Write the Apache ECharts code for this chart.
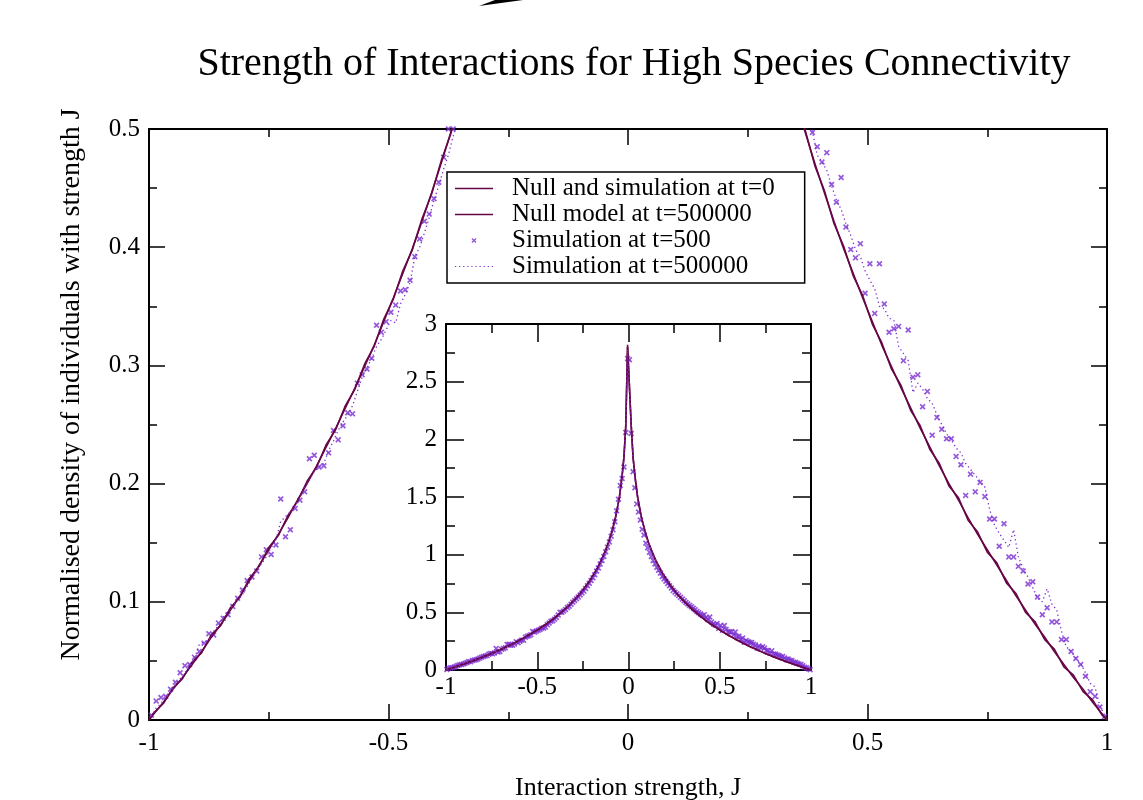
<!DOCTYPE html>
<html>
<head>
<meta charset="utf-8">
<title>Strength of Interactions for High Species Connectivity</title>
<script src="https://cdn.jsdelivr.net/npm/echarts@6/dist/echarts.min.js"></script>
<style>
  html, body { margin: 0; padding: 0; background: #fff; }
  #chart { width: 1143px; height: 800px; }
</style>
</head>
<body>
<div id="chart"></div>
<script>
// histogram bin centres of the simulations
const simJ = [
  -0.995, -0.985, -0.975, -0.965, -0.955, -0.945, -0.935, -0.925, -0.915, -0.905,
  -0.895, -0.885, -0.875, -0.865, -0.855, -0.845, -0.835, -0.825, -0.815, -0.805,
  -0.795, -0.785, -0.775, -0.765, -0.755, -0.745, -0.735, -0.725, -0.715, -0.705,
  -0.695, -0.685, -0.675, -0.665, -0.655, -0.645, -0.635, -0.625, -0.615, -0.605,
  -0.595, -0.585, -0.575, -0.565, -0.555, -0.545, -0.535, -0.525, -0.515, -0.505,
  -0.495, -0.485, -0.475, -0.465, -0.455, -0.445, -0.435, -0.425, -0.415, -0.405,
  -0.395, -0.385, -0.375, -0.365, -0.355, -0.345, -0.335, -0.325, -0.315, -0.305,
  -0.295, -0.285, -0.275, -0.265, -0.255, -0.245, -0.235, -0.225, -0.215, -0.205,
  -0.195, -0.185, -0.175, -0.165, -0.155, -0.145, -0.135, -0.125, -0.115, -0.105,
  -0.095, -0.085, -0.075, -0.065, -0.055, -0.045, -0.035, -0.025, -0.015, -0.005,
  0.005, 0.015, 0.025, 0.035, 0.045, 0.055, 0.065, 0.075, 0.085, 0.095,
  0.105, 0.115, 0.125, 0.135, 0.145, 0.155, 0.165, 0.175, 0.185, 0.195,
  0.205, 0.215, 0.225, 0.235, 0.245, 0.255, 0.265, 0.275, 0.285, 0.295,
  0.305, 0.315, 0.325, 0.335, 0.345, 0.355, 0.365, 0.375, 0.385, 0.395,
  0.405, 0.415, 0.425, 0.435, 0.445, 0.455, 0.465, 0.475, 0.485, 0.495,
  0.505, 0.515, 0.525, 0.535, 0.545, 0.555, 0.565, 0.575, 0.585, 0.595,
  0.605, 0.615, 0.625, 0.635, 0.645, 0.655, 0.665, 0.675, 0.685, 0.695,
  0.705, 0.715, 0.725, 0.735, 0.745, 0.755, 0.765, 0.775, 0.785, 0.795,
  0.805, 0.815, 0.825, 0.835, 0.845, 0.855, 0.865, 0.875, 0.885, 0.895,
  0.905, 0.915, 0.925, 0.935, 0.945, 0.955, 0.965, 0.975, 0.985, 0.995
]

// Simulation at t=500 (crosses)
const sim500 = [
  0.004, 0.016, 0.019, 0.020, 0.026, 0.032, 0.040, 0.046, 0.047, 0.053,
  0.058, 0.065, 0.073, 0.072, 0.082, 0.086, 0.089, 0.096, 0.103, 0.110,
  0.118, 0.121, 0.126, 0.138, 0.144, 0.140, 0.148, 0.187, 0.155, 0.161,
  0.179, 0.186, 0.193, 0.221, 0.224, 0.214, 0.215, 0.226, 0.245, 0.237,
  0.249, 0.260, 0.259, 0.285, 0.292, 0.297, 0.306, 0.334, 0.328, 0.337,
  0.345, 0.351, 0.363, 0.364, 0.372, 0.392, 0.407, 0.422, 0.428, 0.441,
  0.455, 0.476, 0.500, 0.500, 0.512, 0.524, 0.542, 0.553, 0.570, 0.588,
  0.602, 0.618, 0.632, 0.650, 0.668, 0.684, 0.706, 0.730, 0.752, 0.776,
  0.800, 0.826, 0.858, 0.884, 0.918, 0.950, 0.985, 1.025, 1.065, 1.110,
  1.160, 1.215, 1.285, 1.38, 1.48, 1.60, 1.66, 1.76, 2.06, 2.70,
  2.69, 2.05, 1.72, 1.58, 1.44, 1.37, 1.30, 1.22, 1.17, 1.10,
  1.06, 1.02, 0.985, 0.950, 0.920, 0.890, 0.865, 0.840, 0.810, 0.790,
  0.770, 0.750, 0.730, 0.710, 0.690, 0.675, 0.660, 0.645, 0.630, 0.615,
  0.600, 0.585, 0.572, 0.560, 0.548, 0.535, 0.522, 0.508, 0.497, 0.485,
  0.472, 0.480, 0.453, 0.438, 0.459, 0.417, 0.398, 0.391, 0.403, 0.361,
  0.386, 0.344, 0.386, 0.352, 0.328, 0.331, 0.333, 0.304, 0.330, 0.290,
  0.292, 0.265, 0.278, 0.241, 0.256, 0.246, 0.238, 0.238, 0.223, 0.216,
  0.190, 0.208, 0.193, 0.201, 0.189, 0.170, 0.170, 0.147, 0.166, 0.138,
  0.138, 0.130, 0.126, 0.115, 0.117, 0.104, 0.089, 0.095, 0.083, 0.083,
  0.068, 0.068, 0.058, 0.052, 0.047, 0.037, 0.024, 0.020, 0.011, 0.003
]

// Simulation at t=500000 (dotted)
const sim500k = [
  0.003, 0.010, 0.014, 0.019, 0.024, 0.030, 0.035, 0.040, 0.045, 0.052,
  0.064, 0.066, 0.068, 0.075, 0.080, 0.087, 0.092, 0.097, 0.101, 0.106,
  0.113, 0.120, 0.128, 0.132, 0.138, 0.146, 0.152, 0.168, 0.172, 0.176,
  0.181, 0.188, 0.196, 0.203, 0.210, 0.214, 0.217, 0.228, 0.236, 0.245,
  0.252, 0.258, 0.266, 0.278, 0.290, 0.298, 0.306, 0.316, 0.322, 0.330,
  0.338, 0.336, 0.352, 0.360, 0.370, 0.392, 0.400, 0.412, 0.425, 0.440,
  0.452, 0.466, 0.478, 0.494, 0.508, 0.524, 0.538, 0.555, 0.572, 0.588,
  0.604, 0.622, 0.640, 0.656, 0.675, 0.695, 0.716, 0.738, 0.760, 0.784,
  0.810, 0.836, 0.864, 0.894, 0.925, 0.958, 0.994, 1.032, 1.075, 1.120,
  1.170, 1.225, 1.290, 1.365, 1.450, 1.550, 1.670, 1.840, 2.090, 2.780,
  2.780, 2.090, 1.830, 1.660, 1.540, 1.440, 1.355, 1.285, 1.222, 1.168,
  1.120, 1.076, 1.036, 0.998, 0.964, 0.932, 0.902, 0.874, 0.847, 0.821,
  0.797, 0.774, 0.752, 0.731, 0.711, 0.692, 0.674, 0.657, 0.640, 0.624,
  0.608, 0.593, 0.578, 0.564, 0.550, 0.536, 0.522, 0.508, 0.498, 0.478,
  0.472, 0.465, 0.452, 0.440, 0.432, 0.420, 0.410, 0.398, 0.392, 0.380,
  0.372, 0.365, 0.350, 0.348, 0.340, 0.338, 0.316, 0.310, 0.304, 0.277,
  0.285, 0.280, 0.272, 0.268, 0.258, 0.250, 0.242, 0.237, 0.230, 0.226,
  0.217, 0.212, 0.207, 0.202, 0.197, 0.178, 0.165, 0.158, 0.152, 0.146,
  0.161, 0.138, 0.128, 0.121, 0.112, 0.103, 0.100, 0.111, 0.098, 0.093,
  0.075, 0.062, 0.058, 0.052, 0.048, 0.040, 0.031, 0.028, 0.012, 0.004
]

// null model curves
const nullJ = [
  -1, -0.99, -0.97, -0.95, -0.93, -0.91, -0.89, -0.87, -0.85, -0.83,
  -0.81, -0.79, -0.77, -0.75, -0.73, -0.71, -0.69, -0.67, -0.65, -0.63,
  -0.61, -0.59, -0.57, -0.55, -0.53, -0.51, -0.49, -0.47, -0.45, -0.43,
  -0.41, -0.39, -0.37, -0.35, -0.33, -0.31, -0.29, -0.27, -0.25, -0.23,
  -0.21, -0.19, -0.17, -0.15, -0.13, -0.11, -0.09, -0.07, -0.05, -0.035,
  -0.025, -0.015, -0.005,
  0.005, 0.015, 0.025, 0.035, 0.05, 0.07, 0.09, 0.11, 0.13, 0.15,
  0.17, 0.19, 0.21, 0.23, 0.25, 0.27, 0.29, 0.31, 0.33, 0.35,
  0.37, 0.39, 0.41, 0.43, 0.45, 0.47, 0.49, 0.51, 0.53, 0.55,
  0.57, 0.59, 0.61, 0.63, 0.65, 0.67, 0.69, 0.71, 0.73, 0.75,
  0.77, 0.79, 0.81, 0.83, 0.85, 0.87, 0.89, 0.91, 0.93, 0.95,
  0.97, 0.99, 1
]
const nullT0 = [
  0, 0.005, 0.015, 0.026, 0.036, 0.047, 0.058, 0.070, 0.081, 0.093,
  0.105, 0.118, 0.131, 0.144, 0.157, 0.171, 0.186, 0.200, 0.215, 0.231,
  0.247, 0.264, 0.281, 0.299, 0.317, 0.337, 0.357, 0.378, 0.399, 0.422,
  0.446, 0.471, 0.497, 0.525, 0.554, 0.586, 0.619, 0.655, 0.693, 0.735,
  0.780, 0.830, 0.886, 0.949, 1.020, 1.104, 1.204, 1.330, 1.498, 1.68,
  1.85, 2.11, 2.82,
  2.82, 2.11, 1.85, 1.68, 1.498, 1.330, 1.204, 1.104, 1.020, 0.949,
  0.886, 0.830, 0.780, 0.735, 0.693, 0.655, 0.619, 0.586, 0.554, 0.525,
  0.497, 0.471, 0.446, 0.422, 0.399, 0.378, 0.357, 0.337, 0.317, 0.299,
  0.281, 0.264, 0.247, 0.231, 0.215, 0.200, 0.186, 0.171, 0.157, 0.144,
  0.131, 0.118, 0.105, 0.093, 0.081, 0.070, 0.058, 0.047, 0.036, 0.026,
  0.015, 0.005, 0
]
const nullT500k = [
  0, 0.006, 0.014, 0.027, 0.035, 0.049, 0.057, 0.072, 0.080, 0.095,
  0.104, 0.120, 0.130, 0.146, 0.156, 0.173, 0.185, 0.202, 0.214, 0.233,
  0.246, 0.266, 0.280, 0.301, 0.316, 0.339, 0.356, 0.380, 0.398, 0.424,
  0.445, 0.473, 0.496, 0.527, 0.553, 0.588, 0.618, 0.657, 0.692, 0.737,
  0.779, 0.832, 0.885, 0.951, 1.018, 1.106, 1.202, 1.333, 1.495, 1.69,
  1.84, 2.12, 2.80,
  2.80, 2.12, 1.84, 1.69, 1.501, 1.327, 1.207, 1.101, 1.023, 0.947,
  0.888, 0.828, 0.783, 0.733, 0.695, 0.653, 0.622, 0.584, 0.557, 0.523,
  0.499, 0.469, 0.448, 0.420, 0.401, 0.376, 0.359, 0.335, 0.319, 0.297,
  0.283, 0.262, 0.249, 0.229, 0.217, 0.198, 0.188, 0.169, 0.159, 0.142,
  0.133, 0.116, 0.107, 0.091, 0.083, 0.068, 0.060, 0.045, 0.038, 0.024,
  0.017, 0.004, 0
]

const seriesNames = ['Null and simulation at t=0', 'Null model at t=500000', 'Simulation at t=500', 'Simulation at t=500000']

const serif = 'Liberation Serif'
const maroon = '#670748'
const violet = '#7a2fd2'
const crossIcon = 'path://M0,2L2,0L5,3L8,0L10,2L7,5L10,8L8,10L5,7L2,10L0,8L3,5Z'
const lineIcon = 'path://M0,0H37V1.6H0Z'
const dotIcon = 'path://M0,0h1.2v1.2h-1.2Z M4,0h1.2v1.2h-1.2Z M8,0h1.2v1.2h-1.2Z M12,0h1.2v1.2h-1.2Z M16,0h1.2v1.2h-1.2Z M20,0h1.2v1.2h-1.2Z M24,0h1.2v1.2h-1.2Z M28,0h1.2v1.2h-1.2Z M32,0h1.2v1.2h-1.2Z M36,0h1.2v1.2h-1.2Z'

function pairs(xs, ys) {
  return xs.map((x, i) => [x, ys[i]])
}

function frameAxis(gridIndex, position, min, max, interval, tickLen, showLabel, margin) {
  return {
    type: 'value',
    gridIndex: gridIndex,
    position: position,
    min: min,
    max: max,
    interval: interval,
    axisLine: { show: true, onZero: false, lineStyle: { color: '#000', width: 2 } },
    axisTick: { show: true, inside: true, length: tickLen, lineStyle: { color: '#000', width: 1.5 } },
    minorTick: { show: true, splitNumber: 2, length: tickLen / 2, lineStyle: { color: '#000', width: 1.5 } },
    axisLabel: { show: showLabel, color: '#000', fontFamily: serif, fontSize: 25, margin: margin },
    splitLine: { show: false },
    minorSplitLine: { show: false }
  }
}

function curves(axisIndex) {
  return [
    {
      name: seriesNames[0], type: 'line', xAxisIndex: axisIndex, yAxisIndex: axisIndex,
      symbol: 'none', color: maroon,
      lineStyle: { color: maroon, width: 1.6 },
      data: pairs(nullJ, nullT0)
    },
    {
      name: seriesNames[1], type: 'line', xAxisIndex: axisIndex, yAxisIndex: axisIndex,
      symbol: 'none', color: maroon,
      lineStyle: { color: maroon, width: 1.6 },
      data: pairs(nullJ, nullT500k)
    },
    {
      name: seriesNames[2], type: 'scatter', xAxisIndex: axisIndex, yAxisIndex: axisIndex,
      symbol: crossIcon, symbolSize: 6, color: violet,
      itemStyle: { color: violet },
      data: pairs(simJ, sim500)
    },
    {
      name: seriesNames[3], type: 'line', xAxisIndex: axisIndex, yAxisIndex: axisIndex,
      symbol: 'none', color: violet,
      lineStyle: { color: violet, width: 1.3, type: [1.3, 3] },
      data: pairs(simJ, sim500k)
    }
  ]
}

const chart = echarts.init(document.getElementById('chart'))
chart.setOption({
  animation: false,
  backgroundColor: '#fff',
  title: {
    text: 'Strength of Interactions for High Species Connectivity',
    left: 629,
    top: 39,
    textAlign: 'center',
    textStyle: { fontFamily: serif, fontSize: 40, fontWeight: 'normal', color: '#000' }
  },
  legend: {
    orient: 'vertical',
    left: 447,
    top: 172,
    itemWidth: 38,
    itemHeight: 5,
    itemGap: 1,
    padding: [4, 30, 4, 8],
    borderColor: '#000',
    borderWidth: 1.5,
    backgroundColor: '#fff',
    selectedMode: false,
    textStyle: { fontFamily: serif, fontSize: 25, color: '#000', padding: [0, 0, 0, 14] },
    data: [
      { name: seriesNames[0], icon: lineIcon },
      { name: seriesNames[1], icon: lineIcon },
      { name: seriesNames[2], icon: crossIcon },
      { name: seriesNames[3], icon: dotIcon }
    ]
  },
  grid: [
    { left: 149, right: 36, top: 129, bottom: 80, outerBoundsMode: 'none' },
    { left: 446, top: 324, width: 365, height: 346, show: true, backgroundColor: '#fff', borderWidth: 0, outerBoundsMode: 'none' }
  ],
  xAxis: [
    Object.assign(frameAxis(0, 'bottom', -1, 1, 0.5, 16, true, 11), {
      name: 'Interaction strength, J',
      nameLocation: 'middle',
      nameGap: 55,
      nameTextStyle: { fontFamily: serif, fontSize: 26, color: '#000' }
    }),
    frameAxis(0, 'top', -1, 1, 0.5, 16, false, 8),
    frameAxis(1, 'bottom', -1, 1, 0.5, 18, true, 5),
    frameAxis(1, 'top', -1, 1, 0.5, 18, false, 6)
  ],
  yAxis: [
    Object.assign(frameAxis(0, 'left', 0, 0.5, 0.1, 16, true, 9), {
      name: 'Normalised density of individuals with strength J',
      nameLocation: 'middle',
      nameGap: 63,
      nameTextStyle: { fontFamily: serif, fontSize: 28, color: '#000', padding: [0, 0, 0, 80] }
    }),
    frameAxis(0, 'right', 0, 0.5, 0.1, 16, false, 8),
    frameAxis(1, 'left', 0, 3, 0.5, 18, true, 9),
    frameAxis(1, 'right', 0, 3, 0.5, 18, false, 8)
  ],
  graphic: [
    {
      type: 'polygon',
      shape: { points: [[479, 6], [495, 0], [523, 0]] },
      style: { fill: '#000' }
    }
  ],
  series: curves(0).concat(curves(2))
})
</script>
</body>
</html>
